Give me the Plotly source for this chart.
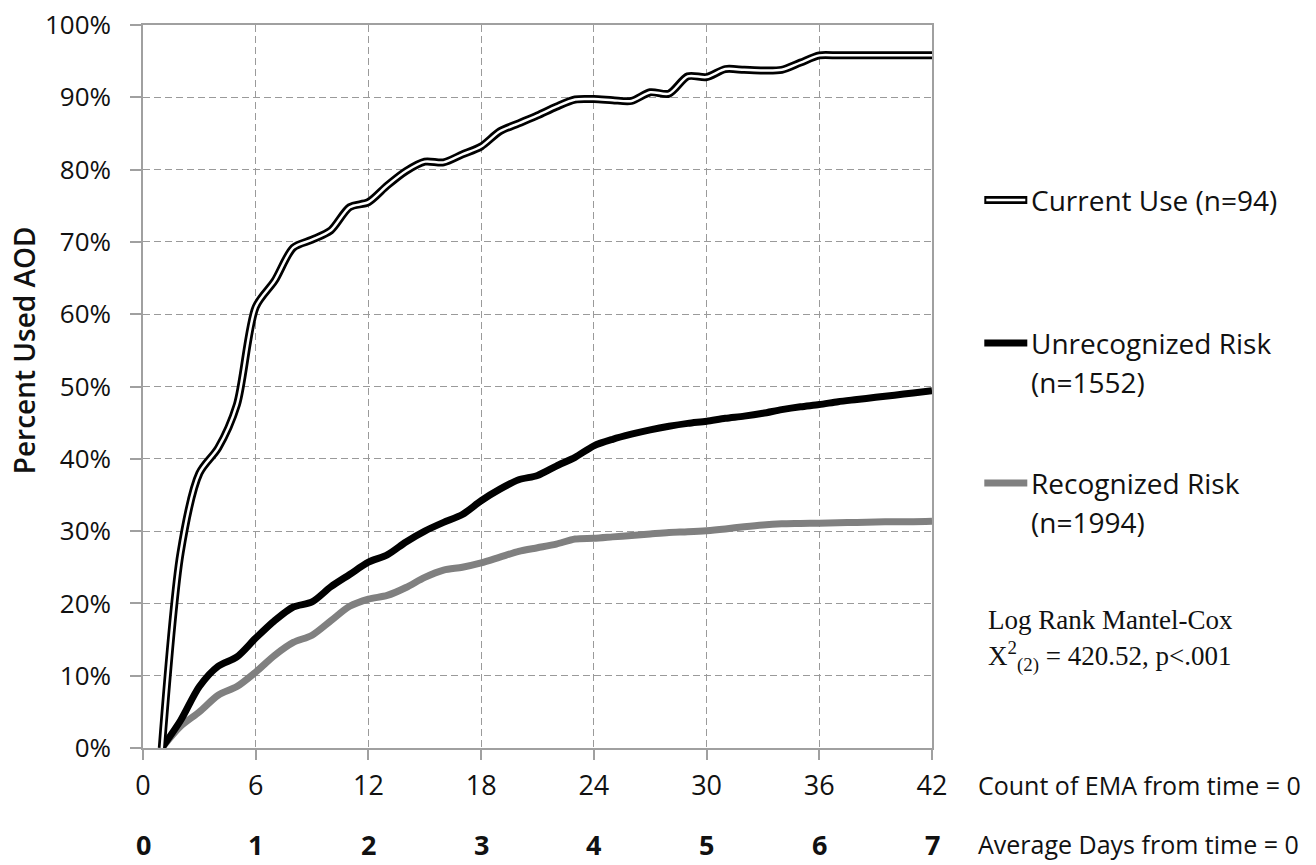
import plotly.graph_objects as go

ema_count = list(range(1, 43))

current_use = [0, 27, 38, 41.5, 47.5, 61, 64.6, 69.2, 70.3, 71.6,
               74.8, 75.5, 77.8, 79.8, 81.1, 81.0, 82.1, 83.2, 85.3, 86.4,
               87.5, 88.7, 89.7, 89.75, 89.6, 89.5, 90.7, 90.5, 92.9, 92.8,
               93.9, 93.8, 93.7, 93.8, 94.8, 95.8, 95.8, 95.8, 95.8, 95.8,
               95.8, 95.8]

unrecognized = [0, 3.8, 8.5, 11.3, 12.6, 15.2, 17.6, 19.5, 20.2, 22.3,
                24.0, 25.7, 26.7, 28.5, 30.0, 31.2, 32.3, 34.2, 35.8, 37.1,
                37.7, 39.0, 40.2, 41.8, 42.7, 43.4, 44.0, 44.5, 44.9, 45.2,
                45.6, 45.9, 46.3, 46.8, 47.2, 47.5, 47.9, 48.2, 48.5, 48.8,
                49.1, 49.4]

recognized = [0, 3.0, 5.0, 7.3, 8.5, 10.5, 12.8, 14.6, 15.6, 17.6,
              19.6, 20.6, 21.1, 22.2, 23.6, 24.6, 25.0, 25.6, 26.4, 27.2,
              27.7, 28.2, 28.9, 29.0, 29.2, 29.4, 29.6, 29.8, 29.9, 30.05,
              30.3, 30.6, 30.85, 31.0, 31.05, 31.1, 31.15, 31.2, 31.25, 31.3,
              31.3, 31.35]

x_ticks = [0, 6, 12, 18, 24, 30, 36, 42]
day_labels = ["0", "1", "2", "3", "4", "5", "6", "7"]
y_ticks = [0, 10, 20, 30, 40, 50, 60, 70, 80, 90, 100]
y_tick_text = [f"{v}%" for v in y_ticks]

legend_lines = [["Current Use (n=94)"],
                ["Unrecognized Risk", "(n=1552)"],
                ["Recognized Risk", "(n=1994)"]]

FONT = "Open Sans"
GRID = "#9a9a9a"
AXIS = "#a0a0a0"
TXT = "#111111"

W, H = 1316, 865
PL, PR, PT, PB = 142.7, 931.7, 25, 748   # plot area in page pixels
PW, PH = PR - PL, PB - PT

fig = go.Figure()
fig.add_trace(go.Scatter(x=ema_count, y=recognized, mode="lines",
                         line=dict(color="#808080", width=7, shape="spline", smoothing=0.8),
                         showlegend=False, hoverinfo="skip"))
fig.add_trace(go.Scatter(x=ema_count, y=unrecognized, mode="lines",
                         line=dict(color="black", width=7, shape="spline", smoothing=0.8),
                         showlegend=False, hoverinfo="skip"))
fig.add_trace(go.Scatter(x=ema_count, y=current_use, mode="lines",
                         line=dict(color="black", width=8, shape="spline", smoothing=0.8),
                         showlegend=False, hoverinfo="skip"))
fig.add_trace(go.Scatter(x=ema_count, y=current_use, mode="lines",
                         line=dict(color="white", width=2.5, shape="spline", smoothing=0.8),
                         showlegend=False, hoverinfo="skip"))

fig.update_layout(
    width=W, height=H,
    margin=dict(l=PL, r=W - PR, t=PT, b=H - PB, autoexpand=False),
    paper_bgcolor="white", plot_bgcolor="white",
    font=dict(family=FONT, color=TXT),
    showlegend=False,
)
fig.update_xaxes(range=[0, 42], tickvals=x_ticks, ticktext=[str(v) for v in x_ticks],
                 showgrid=True, gridcolor=GRID, griddash="7px,4px", gridwidth=1,
                 showline=True, linecolor=AXIS, linewidth=1.5, mirror=True,
                 ticks="outside", ticklen=10, tickcolor=AXIS, tickwidth=1.5,
                 tickfont=dict(size=27, family=FONT, color=TXT),
                 ticklabelstandoff=3, ticklabeloverflow="allow",
                 zeroline=False, automargin=False)
fig.update_yaxes(range=[0, 100], tickvals=y_ticks, ticktext=y_tick_text,
                 showgrid=True, gridcolor=GRID, griddash="7px,4px", gridwidth=1,
                 showline=True, linecolor=AXIS, linewidth=1.5, mirror=True,
                 ticks="outside", ticklen=11, tickcolor=AXIS, tickwidth=1.5,
                 tickfont=dict(size=26, family=FONT, color=TXT),
                 ticklabelstandoff=14, ticklabeloverflow="allow",
                 zeroline=False, automargin=False)


def px_x(p):
    return (p - PL) / PW


def px_y(p):
    return (PB - p) / PH


# y-axis title
fig.add_annotation(text="Percent Used AOD", xref="paper", yref="paper",
                   x=px_x(24), y=px_y(350), textangle=-90, showarrow=False,
                   font=dict(size=28, family=FONT, color=TXT, weight=600),
                   xanchor="center", yanchor="middle")

# second row: average days
for xv, lab in zip(x_ticks, day_labels):
    fig.add_annotation(text=lab, x=xv, xref="x", yref="paper",
                       y=px_y(865), showarrow=False,
                       font=dict(size=27, family=FONT, color=TXT, weight=700),
                       xanchor="center", yanchor="bottom")

fig.add_annotation(text="Count of EMA from time = 0", xref="paper", yref="paper",
                   x=px_x(976), y=px_y(785), showarrow=False,
                   font=dict(size=25, family=FONT, color=TXT),
                   xanchor="left", yanchor="middle")
fig.add_annotation(text="Average Days from time = 0", xref="paper", yref="paper",
                   x=px_x(976), y=px_y(863), showarrow=False,
                   font=dict(size=25, family=FONT, color=TXT),
                   xanchor="left", yanchor="bottom")

# manual legend
legend_y = [200, 343, 483]
x0, x1 = px_x(984), px_x(1027)
fig.add_shape(type="line", xref="paper", yref="paper", x0=x0, x1=x1,
              y0=px_y(legend_y[0]), y1=px_y(legend_y[0]), line=dict(color="black", width=8))
fig.add_shape(type="line", xref="paper", yref="paper", x0=px_x(986), x1=px_x(1025),
              y0=px_y(legend_y[0]), y1=px_y(legend_y[0]), line=dict(color="white", width=2.5))
fig.add_shape(type="line", xref="paper", yref="paper", x0=x0, x1=x1,
              y0=px_y(legend_y[1]), y1=px_y(legend_y[1]), line=dict(color="black", width=7))
fig.add_shape(type="line", xref="paper", yref="paper", x0=x0, x1=x1,
              y0=px_y(legend_y[2]), y1=px_y(legend_y[2]), line=dict(color="#808080", width=7))

for lines, ly in zip(legend_lines, legend_y):
    for i, t in enumerate(lines):
        fig.add_annotation(text=t, xref="paper", yref="paper",
                           x=px_x(1029), y=px_y(ly + 39 * i), showarrow=False, align="left",
                           font=dict(size=28, family=FONT, color=TXT),
                           xanchor="left", yanchor="middle")

fig.add_annotation(text="Log Rank Mantel-Cox",
                   xref="paper", yref="paper", x=px_x(986), y=px_y(620),
                   showarrow=False, align="left",
                   font=dict(size=27, family="Liberation Serif", color=TXT),
                   xanchor="left", yanchor="middle")
fig.add_annotation(text="X<sup>2</sup><sub>(2)</sub> = 420.52, p<.001",
                   xref="paper", yref="paper", x=px_x(986), y=px_y(656),
                   showarrow=False, align="left",
                   font=dict(size=27, family="Liberation Serif", color=TXT),
                   xanchor="left", yanchor="middle")

# remove the default page margin so the figure fills the window exactly
fig.write_html("out.html", config={"displayModeBar": False},
               post_script="document.body.style.margin='0';document.body.style.overflow='hidden';")
